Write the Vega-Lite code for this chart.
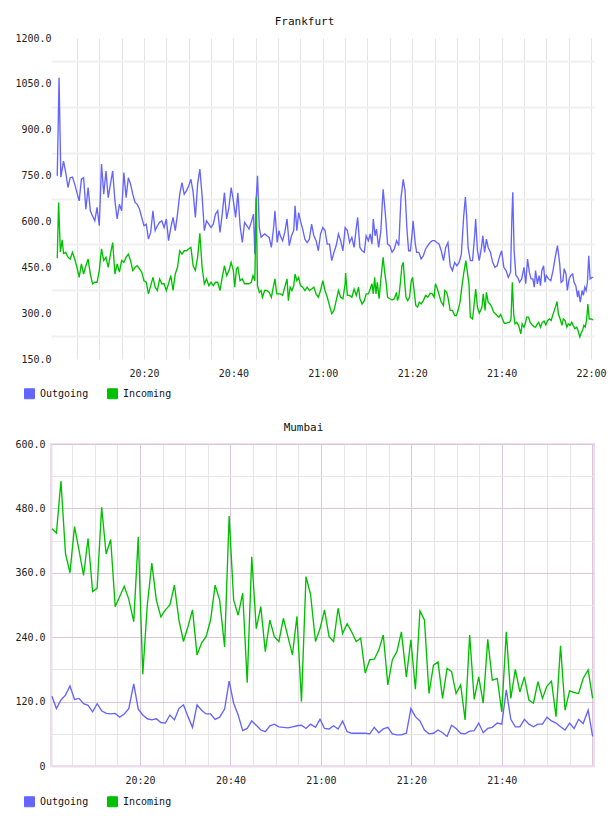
{
  "$schema": "https://vega.github.io/schema/vega-lite/v6.json",
  "background": "white",
  "padding": {"left": 13, "top": 16, "right": 0, "bottom": 0},
  "columns": 1,
  "spacing": 20,
  "resolve": {"scale": {"color": "independent", "x": "independent", "y": "independent"}, "legend": {"color": "independent"}},
  "config": {
    "font": "DejaVu Sans Mono",
    "view": {"stroke": null},
    "axis": {"labelFont": "DejaVu Sans Mono", "labelFontSize": 10, "labelColor": "#222222", "ticks": false, "title": null, "labelOverlap": false, "labelFlush": false, "labelBound": false},
    "legend": {"labelFont": "DejaVu Sans Mono", "labelFontSize": 10, "labelColor": "#111111", "padding": 0},
    "title": {"font": "DejaVu Sans Mono", "fontSize": 11, "fontWeight": "normal", "color": "#111111"}
  },
  "concat": [
    {
      "name": "frankfurt",
      "title": {"text": "Frankfurt", "frame": "group", "anchor": "middle", "dx": -18, "offset": 6},
      "width": 543,
      "height": 321,
      "data": {"values": [
        {"t":0.6,"s":"Outgoing","v":749},{"t":1.0,"s":"Outgoing","v":1070},{"t":1.4,"s":"Outgoing","v":745},{"t":2,"s":"Outgoing","v":797},{"t":2.5,"s":"Outgoing","v":760},{"t":3,"s":"Outgoing","v":711},{"t":3.5,"s":"Outgoing","v":743},{"t":4,"s":"Outgoing","v":745},{"t":4.5,"s":"Outgoing","v":722},{"t":5,"s":"Outgoing","v":694},{"t":5.5,"s":"Outgoing","v":667},{"t":6,"s":"Outgoing","v":738},{"t":6.5,"s":"Outgoing","v":743},{"t":7,"s":"Outgoing","v":640},{"t":7.5,"s":"Outgoing","v":711},{"t":8,"s":"Outgoing","v":635},{"t":8.5,"s":"Outgoing","v":618},{"t":9,"s":"Outgoing","v":602},{"t":9.5,"s":"Outgoing","v":646},{"t":10,"s":"Outgoing","v":586},{"t":10.5,"s":"Outgoing","v":788},{"t":11,"s":"Outgoing","v":689},{"t":11.5,"s":"Outgoing","v":765},{"t":12,"s":"Outgoing","v":678},{"t":12.5,"s":"Outgoing","v":722},{"t":13,"s":"Outgoing","v":765},{"t":13.5,"s":"Outgoing","v":667},{"t":14,"s":"Outgoing","v":608},{"t":14.5,"s":"Outgoing","v":656},{"t":15,"s":"Outgoing","v":635},{"t":15.5,"s":"Outgoing","v":760},{"t":16,"s":"Outgoing","v":678},{"t":16.5,"s":"Outgoing","v":743},{"t":17,"s":"Outgoing","v":722},{"t":17.5,"s":"Outgoing","v":689},{"t":18,"s":"Outgoing","v":662},{"t":18.5,"s":"Outgoing","v":656},{"t":19,"s":"Outgoing","v":640},{"t":19.5,"s":"Outgoing","v":613},{"t":20,"s":"Outgoing","v":586},{"t":20.5,"s":"Outgoing","v":591},{"t":21,"s":"Outgoing","v":542},{"t":21.5,"s":"Outgoing","v":564},{"t":22,"s":"Outgoing","v":635},{"t":22.5,"s":"Outgoing","v":570},{"t":23,"s":"Outgoing","v":586},{"t":23.5,"s":"Outgoing","v":597},{"t":24,"s":"Outgoing","v":602},{"t":24.5,"s":"Outgoing","v":580},{"t":25,"s":"Outgoing","v":608},{"t":25.5,"s":"Outgoing","v":537},{"t":26,"s":"Outgoing","v":580},{"t":26.5,"s":"Outgoing","v":613},{"t":27,"s":"Outgoing","v":570},{"t":27.5,"s":"Outgoing","v":624},{"t":28,"s":"Outgoing","v":689},{"t":28.5,"s":"Outgoing","v":727},{"t":29,"s":"Outgoing","v":689},{"t":29.5,"s":"Outgoing","v":700},{"t":30,"s":"Outgoing","v":716},{"t":30.5,"s":"Outgoing","v":738},{"t":31,"s":"Outgoing","v":694},{"t":31.5,"s":"Outgoing","v":613},{"t":32,"s":"Outgoing","v":722},{"t":32.5,"s":"Outgoing","v":771},{"t":33,"s":"Outgoing","v":684},{"t":33.5,"s":"Outgoing","v":570},{"t":34,"s":"Outgoing","v":602},{"t":34.5,"s":"Outgoing","v":591},{"t":35,"s":"Outgoing","v":580},{"t":35.5,"s":"Outgoing","v":591},{"t":36,"s":"Outgoing","v":624},{"t":36.5,"s":"Outgoing","v":635},{"t":37,"s":"Outgoing","v":564},{"t":37.5,"s":"Outgoing","v":624},{"t":38,"s":"Outgoing","v":694},{"t":38.5,"s":"Outgoing","v":608},{"t":39,"s":"Outgoing","v":646},{"t":39.5,"s":"Outgoing","v":711},{"t":40,"s":"Outgoing","v":667},{"t":40.5,"s":"Outgoing","v":613},{"t":41,"s":"Outgoing","v":694},{"t":41.5,"s":"Outgoing","v":586},{"t":42,"s":"Outgoing","v":531},{"t":42.5,"s":"Outgoing","v":597},{"t":43,"s":"Outgoing","v":586},{"t":43.5,"s":"Outgoing","v":575},{"t":44,"s":"Outgoing","v":597},{"t":44.5,"s":"Outgoing","v":624},{"t":44.8,"s":"Outgoing","v":493},{"t":45.1,"s":"Outgoing","v":673},{"t":45.4,"s":"Outgoing","v":749},{"t":45.8,"s":"Outgoing","v":580},{"t":46.2,"s":"Outgoing","v":548},{"t":46.5,"s":"Outgoing","v":553},{"t":47,"s":"Outgoing","v":559},{"t":47.5,"s":"Outgoing","v":553},{"t":48,"s":"Outgoing","v":548},{"t":48.5,"s":"Outgoing","v":515},{"t":49,"s":"Outgoing","v":580},{"t":49.3,"s":"Outgoing","v":635},{"t":49.8,"s":"Outgoing","v":531},{"t":50.2,"s":"Outgoing","v":570},{"t":50.5,"s":"Outgoing","v":553},{"t":51,"s":"Outgoing","v":537},{"t":51.5,"s":"Outgoing","v":564},{"t":52,"s":"Outgoing","v":608},{"t":52.5,"s":"Outgoing","v":521},{"t":53,"s":"Outgoing","v":553},{"t":53.5,"s":"Outgoing","v":570},{"t":53.8,"s":"Outgoing","v":651},{"t":54.2,"s":"Outgoing","v":570},{"t":54.6,"s":"Outgoing","v":629},{"t":55,"s":"Outgoing","v":602},{"t":55.5,"s":"Outgoing","v":575},{"t":56,"s":"Outgoing","v":542},{"t":56.5,"s":"Outgoing","v":531},{"t":57,"s":"Outgoing","v":542},{"t":57.5,"s":"Outgoing","v":591},{"t":58,"s":"Outgoing","v":553},{"t":58.5,"s":"Outgoing","v":537},{"t":59,"s":"Outgoing","v":504},{"t":59.5,"s":"Outgoing","v":559},{"t":60,"s":"Outgoing","v":580},{"t":60.5,"s":"Outgoing","v":570},{"t":61,"s":"Outgoing","v":526},{"t":61.5,"s":"Outgoing","v":526},{"t":62,"s":"Outgoing","v":472},{"t":62.5,"s":"Outgoing","v":499},{"t":63,"s":"Outgoing","v":521},{"t":63.5,"s":"Outgoing","v":559},{"t":64,"s":"Outgoing","v":537},{"t":64.5,"s":"Outgoing","v":504},{"t":65,"s":"Outgoing","v":580},{"t":65.5,"s":"Outgoing","v":570},{"t":66,"s":"Outgoing","v":531},{"t":66.5,"s":"Outgoing","v":548},{"t":67,"s":"Outgoing","v":515},{"t":67.5,"s":"Outgoing","v":580},{"t":67.8,"s":"Outgoing","v":613},{"t":68.3,"s":"Outgoing","v":515},{"t":68.8,"s":"Outgoing","v":504},{"t":69.3,"s":"Outgoing","v":499},{"t":69.7,"s":"Outgoing","v":553},{"t":70.2,"s":"Outgoing","v":537},{"t":70.6,"s":"Outgoing","v":559},{"t":71,"s":"Outgoing","v":526},{"t":71.3,"s":"Outgoing","v":608},{"t":71.7,"s":"Outgoing","v":553},{"t":72,"s":"Outgoing","v":575},{"t":72.5,"s":"Outgoing","v":515},{"t":73,"s":"Outgoing","v":570},{"t":73.3,"s":"Outgoing","v":656},{"t":73.5,"s":"Outgoing","v":705},{"t":74,"s":"Outgoing","v":624},{"t":74.5,"s":"Outgoing","v":526},{"t":75,"s":"Outgoing","v":521},{"t":75.5,"s":"Outgoing","v":499},{"t":76,"s":"Outgoing","v":510},{"t":76.5,"s":"Outgoing","v":537},{"t":77,"s":"Outgoing","v":521},{"t":77.5,"s":"Outgoing","v":678},{"t":78,"s":"Outgoing","v":738},{"t":78.4,"s":"Outgoing","v":700},{"t":78.8,"s":"Outgoing","v":580},{"t":79.2,"s":"Outgoing","v":504},{"t":79.6,"s":"Outgoing","v":504},{"t":80,"s":"Outgoing","v":564},{"t":80.2,"s":"Outgoing","v":602},{"t":80.7,"s":"Outgoing","v":526},{"t":81,"s":"Outgoing","v":499},{"t":81.5,"s":"Outgoing","v":499},{"t":82,"s":"Outgoing","v":477},{"t":82.5,"s":"Outgoing","v":488},{"t":83,"s":"Outgoing","v":510},{"t":83.5,"s":"Outgoing","v":521},{"t":84,"s":"Outgoing","v":531},{"t":84.5,"s":"Outgoing","v":537},{"t":85,"s":"Outgoing","v":537},{"t":85.5,"s":"Outgoing","v":531},{"t":86,"s":"Outgoing","v":526},{"t":86.5,"s":"Outgoing","v":504},{"t":87,"s":"Outgoing","v":472},{"t":87.5,"s":"Outgoing","v":515},{"t":88,"s":"Outgoing","v":531},{"t":88.5,"s":"Outgoing","v":455},{"t":89,"s":"Outgoing","v":439},{"t":89.5,"s":"Outgoing","v":466},{"t":90,"s":"Outgoing","v":455},{"t":90.5,"s":"Outgoing","v":466},{"t":91,"s":"Outgoing","v":493},{"t":91.5,"s":"Outgoing","v":613},{"t":91.9,"s":"Outgoing","v":680},{"t":92.2,"s":"Outgoing","v":613},{"t":92.5,"s":"Outgoing","v":515},{"t":93,"s":"Outgoing","v":472},{"t":93.5,"s":"Outgoing","v":472},{"t":94,"s":"Outgoing","v":559},{"t":94.2,"s":"Outgoing","v":608},{"t":94.6,"s":"Outgoing","v":504},{"t":95,"s":"Outgoing","v":472},{"t":95.5,"s":"Outgoing","v":515},{"t":95.8,"s":"Outgoing","v":553},{"t":96.2,"s":"Outgoing","v":499},{"t":96.6,"s":"Outgoing","v":542},{"t":97,"s":"Outgoing","v":515},{"t":97.5,"s":"Outgoing","v":499},{"t":98,"s":"Outgoing","v":466},{"t":98.5,"s":"Outgoing","v":450},{"t":99,"s":"Outgoing","v":455},{"t":99.5,"s":"Outgoing","v":483},{"t":100,"s":"Outgoing","v":504},{"t":100.5,"s":"Outgoing","v":450},{"t":101,"s":"Outgoing","v":439},{"t":101.5,"s":"Outgoing","v":417},{"t":102,"s":"Outgoing","v":434},{"t":102.3,"s":"Outgoing","v":613},{"t":102.5,"s":"Outgoing","v":695},{"t":102.8,"s":"Outgoing","v":504},{"t":103.2,"s":"Outgoing","v":423},{"t":103.6,"s":"Outgoing","v":417},{"t":104,"s":"Outgoing","v":401},{"t":104.5,"s":"Outgoing","v":412},{"t":105,"s":"Outgoing","v":450},{"t":105.4,"s":"Outgoing","v":396},{"t":105.8,"s":"Outgoing","v":477},{"t":106.2,"s":"Outgoing","v":434},{"t":106.6,"s":"Outgoing","v":412},{"t":107,"s":"Outgoing","v":412},{"t":107.3,"s":"Outgoing","v":385},{"t":107.6,"s":"Outgoing","v":439},{"t":108,"s":"Outgoing","v":396},{"t":108.4,"s":"Outgoing","v":423},{"t":108.7,"s":"Outgoing","v":390},{"t":109,"s":"Outgoing","v":439},{"t":109.4,"s":"Outgoing","v":455},{"t":109.7,"s":"Outgoing","v":401},{"t":110,"s":"Outgoing","v":423},{"t":110.5,"s":"Outgoing","v":412},{"t":111,"s":"Outgoing","v":406},{"t":111.5,"s":"Outgoing","v":439},{"t":112,"s":"Outgoing","v":483},{"t":112.5,"s":"Outgoing","v":521},{"t":113,"s":"Outgoing","v":461},{"t":113.3,"s":"Outgoing","v":401},{"t":113.7,"s":"Outgoing","v":406},{"t":114,"s":"Outgoing","v":445},{"t":114.4,"s":"Outgoing","v":428},{"t":114.7,"s":"Outgoing","v":374},{"t":115.1,"s":"Outgoing","v":412},{"t":115.5,"s":"Outgoing","v":423},{"t":115.9,"s":"Outgoing","v":428},{"t":116.2,"s":"Outgoing","v":401},{"t":116.6,"s":"Outgoing","v":390},{"t":117,"s":"Outgoing","v":352},{"t":117.2,"s":"Outgoing","v":374},{"t":117.6,"s":"Outgoing","v":336},{"t":118,"s":"Outgoing","v":374},{"t":118.3,"s":"Outgoing","v":358},{"t":118.6,"s":"Outgoing","v":385},{"t":118.9,"s":"Outgoing","v":374},{"t":119.2,"s":"Outgoing","v":401},{"t":119.5,"s":"Outgoing","v":488},{"t":119.8,"s":"Outgoing","v":412},{"t":120.2,"s":"Outgoing","v":417},{"t":120.5,"s":"Outgoing","v":417},
        {"t":0.6,"s":"Incoming","v":480},{"t":0.9,"s":"Incoming","v":662},{"t":1.3,"s":"Incoming","v":500},{"t":1.7,"s":"Incoming","v":540},{"t":2,"s":"Incoming","v":495},{"t":2.5,"s":"Incoming","v":499},{"t":3,"s":"Incoming","v":483},{"t":3.5,"s":"Incoming","v":477},{"t":4,"s":"Incoming","v":499},{"t":4.5,"s":"Incoming","v":477},{"t":5,"s":"Incoming","v":450},{"t":5.5,"s":"Incoming","v":417},{"t":6,"s":"Incoming","v":461},{"t":6.5,"s":"Incoming","v":428},{"t":7,"s":"Incoming","v":455},{"t":7.5,"s":"Incoming","v":477},{"t":8,"s":"Incoming","v":428},{"t":8.5,"s":"Incoming","v":396},{"t":9,"s":"Incoming","v":401},{"t":9.5,"s":"Incoming","v":401},{"t":10,"s":"Incoming","v":439},{"t":10.5,"s":"Incoming","v":510},{"t":11,"s":"Incoming","v":472},{"t":11.5,"s":"Incoming","v":483},{"t":12,"s":"Incoming","v":450},{"t":12.5,"s":"Incoming","v":493},{"t":13,"s":"Incoming","v":531},{"t":13.5,"s":"Incoming","v":428},{"t":14,"s":"Incoming","v":461},{"t":14.5,"s":"Incoming","v":434},{"t":15,"s":"Incoming","v":472},{"t":15.5,"s":"Incoming","v":466},{"t":16,"s":"Incoming","v":483},{"t":16.5,"s":"Incoming","v":493},{"t":17,"s":"Incoming","v":472},{"t":17.5,"s":"Incoming","v":439},{"t":18,"s":"Incoming","v":450},{"t":18.5,"s":"Incoming","v":455},{"t":19,"s":"Incoming","v":445},{"t":19.5,"s":"Incoming","v":434},{"t":20,"s":"Incoming","v":406},{"t":20.5,"s":"Incoming","v":401},{"t":21,"s":"Incoming","v":363},{"t":21.5,"s":"Incoming","v":390},{"t":22,"s":"Incoming","v":417},{"t":22.5,"s":"Incoming","v":385},{"t":23,"s":"Incoming","v":374},{"t":23.5,"s":"Incoming","v":412},{"t":24,"s":"Incoming","v":396},{"t":24.5,"s":"Incoming","v":396},{"t":25,"s":"Incoming","v":374},{"t":25.5,"s":"Incoming","v":396},{"t":26,"s":"Incoming","v":423},{"t":26.5,"s":"Incoming","v":374},{"t":27,"s":"Incoming","v":428},{"t":27.5,"s":"Incoming","v":450},{"t":28,"s":"Incoming","v":504},{"t":28.5,"s":"Incoming","v":493},{"t":29,"s":"Incoming","v":504},{"t":29.5,"s":"Incoming","v":504},{"t":30,"s":"Incoming","v":510},{"t":30.5,"s":"Incoming","v":515},{"t":31,"s":"Incoming","v":455},{"t":31.5,"s":"Incoming","v":440},{"t":32,"s":"Incoming","v":483},{"t":32.5,"s":"Incoming","v":561},{"t":33,"s":"Incoming","v":450},{"t":33.5,"s":"Incoming","v":396},{"t":34,"s":"Incoming","v":412},{"t":34.5,"s":"Incoming","v":390},{"t":35,"s":"Incoming","v":401},{"t":35.5,"s":"Incoming","v":390},{"t":36,"s":"Incoming","v":401},{"t":36.5,"s":"Incoming","v":401},{"t":37,"s":"Incoming","v":374},{"t":37.5,"s":"Incoming","v":417},{"t":38,"s":"Incoming","v":455},{"t":38.5,"s":"Incoming","v":423},{"t":39,"s":"Incoming","v":439},{"t":39.5,"s":"Incoming","v":466},{"t":40,"s":"Incoming","v":439},{"t":40.3,"s":"Incoming","v":385},{"t":40.7,"s":"Incoming","v":445},{"t":41,"s":"Incoming","v":450},{"t":41.5,"s":"Incoming","v":406},{"t":42,"s":"Incoming","v":412},{"t":42.5,"s":"Incoming","v":396},{"t":43,"s":"Incoming","v":396},{"t":43.5,"s":"Incoming","v":396},{"t":44,"s":"Incoming","v":401},{"t":44.4,"s":"Incoming","v":423},{"t":44.8,"s":"Incoming","v":406},{"t":45.1,"s":"Incoming","v":678},{"t":45.4,"s":"Incoming","v":390},{"t":45.8,"s":"Incoming","v":368},{"t":46.2,"s":"Incoming","v":374},{"t":46.5,"s":"Incoming","v":352},{"t":47,"s":"Incoming","v":374},{"t":47.5,"s":"Incoming","v":374},{"t":48,"s":"Incoming","v":368},{"t":48.5,"s":"Incoming","v":352},{"t":49,"s":"Incoming","v":390},{"t":49.3,"s":"Incoming","v":412},{"t":49.7,"s":"Incoming","v":363},{"t":50.2,"s":"Incoming","v":363},{"t":50.6,"s":"Incoming","v":363},{"t":51,"s":"Incoming","v":358},{"t":51.5,"s":"Incoming","v":385},{"t":52,"s":"Incoming","v":412},{"t":52.3,"s":"Incoming","v":341},{"t":52.7,"s":"Incoming","v":385},{"t":53.1,"s":"Incoming","v":374},{"t":53.5,"s":"Incoming","v":390},{"t":53.8,"s":"Incoming","v":428},{"t":54.2,"s":"Incoming","v":406},{"t":54.6,"s":"Incoming","v":417},{"t":55,"s":"Incoming","v":390},{"t":55.5,"s":"Incoming","v":385},{"t":56,"s":"Incoming","v":374},{"t":56.5,"s":"Incoming","v":385},{"t":57,"s":"Incoming","v":374},{"t":57.5,"s":"Incoming","v":379},{"t":58,"s":"Incoming","v":385},{"t":58.5,"s":"Incoming","v":363},{"t":59,"s":"Incoming","v":352},{"t":59.5,"s":"Incoming","v":374},{"t":60,"s":"Incoming","v":406},{"t":60.5,"s":"Incoming","v":374},{"t":61,"s":"Incoming","v":352},{"t":61.5,"s":"Incoming","v":325},{"t":62,"s":"Incoming","v":298},{"t":62.5,"s":"Incoming","v":309},{"t":63,"s":"Incoming","v":341},{"t":63.5,"s":"Incoming","v":374},{"t":64,"s":"Incoming","v":352},{"t":64.5,"s":"Incoming","v":347},{"t":65,"s":"Incoming","v":396},{"t":65.1,"s":"Incoming","v":431},{"t":65.5,"s":"Incoming","v":358},{"t":66,"s":"Incoming","v":358},{"t":66.5,"s":"Incoming","v":352},{"t":67,"s":"Incoming","v":379},{"t":67.5,"s":"Incoming","v":358},{"t":68,"s":"Incoming","v":385},{"t":68.3,"s":"Incoming","v":347},{"t":68.8,"s":"Incoming","v":330},{"t":69.3,"s":"Incoming","v":341},{"t":69.7,"s":"Incoming","v":363},{"t":70.2,"s":"Incoming","v":363},{"t":70.6,"s":"Incoming","v":379},{"t":71,"s":"Incoming","v":396},{"t":71.3,"s":"Incoming","v":363},{"t":71.6,"s":"Incoming","v":417},{"t":71.9,"s":"Incoming","v":363},{"t":72.2,"s":"Incoming","v":401},{"t":72.6,"s":"Incoming","v":347},{"t":73,"s":"Incoming","v":412},{"t":73.3,"s":"Incoming","v":455},{"t":73.5,"s":"Incoming","v":483},{"t":73.8,"s":"Incoming","v":439},{"t":74.2,"s":"Incoming","v":396},{"t":74.5,"s":"Incoming","v":352},{"t":75,"s":"Incoming","v":347},{"t":75.5,"s":"Incoming","v":343},{"t":76,"s":"Incoming","v":347},{"t":76.5,"s":"Incoming","v":368},{"t":76.7,"s":"Incoming","v":341},{"t":77,"s":"Incoming","v":352},{"t":77.4,"s":"Incoming","v":406},{"t":77.7,"s":"Incoming","v":455},{"t":78,"s":"Incoming","v":466},{"t":78.3,"s":"Incoming","v":406},{"t":78.6,"s":"Incoming","v":352},{"t":79,"s":"Incoming","v":341},{"t":79.4,"s":"Incoming","v":352},{"t":79.8,"s":"Incoming","v":406},{"t":80.1,"s":"Incoming","v":417},{"t":80.5,"s":"Incoming","v":363},{"t":80.8,"s":"Incoming","v":325},{"t":81.2,"s":"Incoming","v":320},{"t":81.6,"s":"Incoming","v":336},{"t":82,"s":"Incoming","v":330},{"t":82.5,"s":"Incoming","v":341},{"t":83,"s":"Incoming","v":358},{"t":83.5,"s":"Incoming","v":352},{"t":84,"s":"Incoming","v":365},{"t":84.5,"s":"Incoming","v":363},{"t":84.9,"s":"Incoming","v":352},{"t":85.2,"s":"Incoming","v":396},{"t":85.5,"s":"Incoming","v":385},{"t":86,"s":"Incoming","v":361},{"t":86.5,"s":"Incoming","v":336},{"t":87,"s":"Incoming","v":325},{"t":87.3,"s":"Incoming","v":374},{"t":87.7,"s":"Incoming","v":368},{"t":88,"s":"Incoming","v":352},{"t":88.5,"s":"Incoming","v":309},{"t":89,"s":"Incoming","v":309},{"t":89.5,"s":"Incoming","v":292},{"t":89.9,"s":"Incoming","v":292},{"t":90.3,"s":"Incoming","v":311},{"t":90.7,"s":"Incoming","v":336},{"t":91.1,"s":"Incoming","v":385},{"t":91.5,"s":"Incoming","v":428},{"t":92,"s":"Incoming","v":472},{"t":92.3,"s":"Incoming","v":439},{"t":92.7,"s":"Incoming","v":396},{"t":93,"s":"Incoming","v":287},{"t":93.5,"s":"Incoming","v":281},{"t":93.8,"s":"Incoming","v":320},{"t":94.2,"s":"Incoming","v":379},{"t":94.6,"s":"Incoming","v":320},{"t":95,"s":"Incoming","v":300},{"t":95.3,"s":"Incoming","v":309},{"t":95.6,"s":"Incoming","v":320},{"t":95.9,"s":"Incoming","v":363},{"t":96.3,"s":"Incoming","v":309},{"t":96.6,"s":"Incoming","v":368},{"t":97,"s":"Incoming","v":336},{"t":97.4,"s":"Incoming","v":330},{"t":97.8,"s":"Incoming","v":320},{"t":98.2,"s":"Incoming","v":303},{"t":98.6,"s":"Incoming","v":298},{"t":99,"s":"Incoming","v":292},{"t":99.4,"s":"Incoming","v":287},{"t":99.8,"s":"Incoming","v":296},{"t":100.2,"s":"Incoming","v":281},{"t":100.6,"s":"Incoming","v":267},{"t":101,"s":"Incoming","v":267},{"t":101.4,"s":"Incoming","v":270},{"t":101.8,"s":"Incoming","v":270},{"t":102.1,"s":"Incoming","v":281},{"t":102.4,"s":"Incoming","v":401},{"t":102.7,"s":"Incoming","v":298},{"t":103,"s":"Incoming","v":265},{"t":103.4,"s":"Incoming","v":270},{"t":103.8,"s":"Incoming","v":260},{"t":104.3,"s":"Incoming","v":232},{"t":104.6,"s":"Incoming","v":265},{"t":105,"s":"Incoming","v":254},{"t":105.3,"s":"Incoming","v":265},{"t":105.6,"s":"Incoming","v":287},{"t":106,"s":"Incoming","v":287},{"t":106.4,"s":"Incoming","v":270},{"t":106.8,"s":"Incoming","v":262},{"t":107.2,"s":"Incoming","v":256},{"t":107.6,"s":"Incoming","v":254},{"t":108,"s":"Incoming","v":265},{"t":108.3,"s":"Incoming","v":270},{"t":108.7,"s":"Incoming","v":254},{"t":109.1,"s":"Incoming","v":270},{"t":109.5,"s":"Incoming","v":274},{"t":109.9,"s":"Incoming","v":262},{"t":110.3,"s":"Incoming","v":276},{"t":110.7,"s":"Incoming","v":281},{"t":111.1,"s":"Incoming","v":276},{"t":111.4,"s":"Incoming","v":292},{"t":111.8,"s":"Incoming","v":309},{"t":112.2,"s":"Incoming","v":328},{"t":112.4,"s":"Incoming","v":338},{"t":112.7,"s":"Incoming","v":298},{"t":113.1,"s":"Incoming","v":281},{"t":113.5,"s":"Incoming","v":260},{"t":113.8,"s":"Incoming","v":281},{"t":114.2,"s":"Incoming","v":276},{"t":114.6,"s":"Incoming","v":254},{"t":114.9,"s":"Incoming","v":265},{"t":115.3,"s":"Incoming","v":260},{"t":115.7,"s":"Incoming","v":270},{"t":116,"s":"Incoming","v":260},{"t":116.4,"s":"Incoming","v":249},{"t":116.8,"s":"Incoming","v":254},{"t":117.1,"s":"Incoming","v":243},{"t":117.5,"s":"Incoming","v":222},{"t":117.8,"s":"Incoming","v":235},{"t":118.1,"s":"Incoming","v":243},{"t":118.4,"s":"Incoming","v":260},{"t":118.7,"s":"Incoming","v":254},{"t":119,"s":"Incoming","v":276},{"t":119.3,"s":"Incoming","v":330},{"t":119.6,"s":"Incoming","v":281},{"t":120,"s":"Incoming","v":281},{"t":120.5,"s":"Incoming","v":278}
      ]},
      "mark": {"type": "line", "strokeWidth": 1.35, "interpolate": "linear"},
      "encoding": {
        "x": {
          "field": "t", "type": "quantitative",
          "scale": {"domain": [-0.8, 120.67], "nice": false, "zero": false},
          "axis": {
            "values": [5,10,15,20,25,30,35,40,45,50,55,60,65,70,75,80,85,90,95,100,105,110,115,120],
            "labelExpr": "datum.value % 20 == 0 ? (20 + floor(datum.value / 60)) + ':' + (datum.value % 60 == 0 ? '00' : '' + (datum.value % 60)) : ''",
            "grid": true, "gridColor": "#e4e4e4", "gridWidth": 1, "domain": false, "labelPadding": 9
          }
        },
        "y": {
          "field": "v", "type": "quantitative",
          "scale": {"domain": [150, 1200], "nice": false, "zero": false},
          "axis": {
            "values": [150,225,300,375,450,525,600,675,750,825,900,975,1050,1125,1200],
            "labelExpr": "datum.value % 150 == 0 ? format(datum.value, '.1f') : ''",
            "grid": true, "gridColor": "#efefef", "gridWidth": 2,
            "gridOpacity": {"condition": {"test": "datum.value % 150 == 0", "value": 0}, "value": 1},
            "domain": false, "labelPadding": 0
          }
        },
        "color": {
          "field": "s", "type": "nominal",
          "scale": {"domain": ["Outgoing", "Incoming"], "range": ["#6464ff", "#00c000"]},
          "legend": {
            "title": null, "orient": "none", "legendX": -27, "legendY": 350, "direction": "horizontal",
            "columns": 2, "columnPadding": 16, "labelOffset": 5, "symbolSize": 100, "symbolType": "square",
            "encode": {"symbols": {"update": {"fill": {"scale": "frankfurt_color", "field": "value"}, "stroke": {"value": "#8a8a8a"}, "strokeWidth": {"value": 1}, "opacity": {"value": 1}}}}
          }
        }
      }
    },
    {
      "name": "mumbai",
      "title": {"text": "Mumbai", "frame": "group", "anchor": "middle", "dx": -19, "offset": 6},
      "width": 543,
      "height": 322,
      "view": {"stroke": "#eddded", "strokeWidth": 2},
      "data": {"values": [
        {"t":0.5,"Outgoing":130,"Incoming":442},{"t":1.5,"Outgoing":107,"Incoming":434},{"t":2.5,"Outgoing":123,"Incoming":531},{"t":3.5,"Outgoing":132,"Incoming":396},{"t":4.5,"Outgoing":149,"Incoming":360},{"t":5.5,"Outgoing":124,"Incoming":446},{"t":6.5,"Outgoing":126,"Incoming":402},{"t":7.5,"Outgoing":116,"Incoming":355},{"t":8.5,"Outgoing":113,"Incoming":424},{"t":9.5,"Outgoing":101,"Incoming":325},
        {"t":10.5,"Outgoing":116,"Incoming":331},{"t":11.5,"Outgoing":103,"Incoming":482},{"t":12.5,"Outgoing":98,"Incoming":395},{"t":13.5,"Outgoing":97,"Incoming":422},{"t":14.5,"Outgoing":98,"Incoming":297},{"t":15.5,"Outgoing":91,"Incoming":316},{"t":16.5,"Outgoing":97,"Incoming":335},{"t":17.5,"Outgoing":107,"Incoming":311},{"t":18.6,"Outgoing":153,"Incoming":269},{"t":19.6,"Outgoing":106,"Incoming":427},
        {"t":20.6,"Outgoing":95,"Incoming":171},{"t":21.6,"Outgoing":88,"Incoming":300},{"t":22.6,"Outgoing":86,"Incoming":378},{"t":23.6,"Outgoing":88,"Incoming":309},{"t":24.6,"Outgoing":81,"Incoming":278},{"t":25.6,"Outgoing":80,"Incoming":291},{"t":26.6,"Outgoing":95,"Incoming":300},{"t":27.6,"Outgoing":86,"Incoming":337},{"t":28.6,"Outgoing":107,"Incoming":272},{"t":29.6,"Outgoing":114,"Incoming":232},
        {"t":30.6,"Outgoing":92,"Incoming":260},{"t":31.6,"Outgoing":72,"Incoming":291},{"t":32.6,"Outgoing":114,"Incoming":207},{"t":33.6,"Outgoing":104,"Incoming":229},{"t":34.6,"Outgoing":97,"Incoming":241},{"t":35.6,"Outgoing":97,"Incoming":272},{"t":36.6,"Outgoing":87,"Incoming":337},{"t":37.6,"Outgoing":91,"Incoming":309},{"t":38.7,"Outgoing":106,"Incoming":222},{"t":39.7,"Outgoing":158,"Incoming":466},
        {"t":40.7,"Outgoing":117,"Incoming":309},{"t":41.7,"Outgoing":95,"Incoming":281},{"t":42.7,"Outgoing":66,"Incoming":322},{"t":43.7,"Outgoing":70,"Incoming":155},{"t":44.7,"Outgoing":84,"Incoming":390},{"t":45.7,"Outgoing":76,"Incoming":256},{"t":46.7,"Outgoing":67,"Incoming":297},{"t":47.7,"Outgoing":64,"Incoming":213},{"t":48.7,"Outgoing":75,"Incoming":272},{"t":49.7,"Outgoing":78,"Incoming":241},
        {"t":50.7,"Outgoing":73,"Incoming":232},{"t":51.7,"Outgoing":72,"Incoming":275},{"t":52.7,"Outgoing":71,"Incoming":241},{"t":53.7,"Outgoing":73,"Incoming":207},{"t":54.7,"Outgoing":75,"Incoming":279},{"t":55.7,"Outgoing":76,"Incoming":120},{"t":56.7,"Outgoing":70,"Incoming":353},{"t":57.7,"Outgoing":78,"Incoming":320},{"t":58.8,"Outgoing":72,"Incoming":232},{"t":59.8,"Outgoing":87,"Incoming":256},
        {"t":60.8,"Outgoing":70,"Incoming":291},{"t":61.8,"Outgoing":69,"Incoming":241},{"t":62.8,"Outgoing":75,"Incoming":232},{"t":63.8,"Outgoing":69,"Incoming":294},{"t":64.8,"Outgoing":84,"Incoming":247},{"t":65.8,"Outgoing":64,"Incoming":265},{"t":66.8,"Outgoing":61,"Incoming":250},{"t":67.8,"Outgoing":61,"Incoming":232},{"t":68.8,"Outgoing":61,"Incoming":238},{"t":69.8,"Outgoing":61,"Incoming":173},
        {"t":70.8,"Outgoing":60,"Incoming":198},{"t":71.8,"Outgoing":72,"Incoming":199},{"t":72.8,"Outgoing":62,"Incoming":216},{"t":73.8,"Outgoing":69,"Incoming":244},{"t":74.8,"Outgoing":72,"Incoming":151},{"t":75.8,"Outgoing":60,"Incoming":198},{"t":76.8,"Outgoing":58,"Incoming":213},{"t":77.8,"Outgoing":58,"Incoming":250},{"t":78.9,"Outgoing":61,"Incoming":166},{"t":79.9,"Outgoing":107,"Incoming":235},
        {"t":80.9,"Outgoing":92,"Incoming":143},{"t":81.9,"Outgoing":84,"Incoming":289},{"t":82.9,"Outgoing":67,"Incoming":272},{"t":83.9,"Outgoing":60,"Incoming":135},{"t":84.9,"Outgoing":61,"Incoming":188},{"t":85.9,"Outgoing":67,"Incoming":194},{"t":86.9,"Outgoing":62,"Incoming":126},{"t":87.9,"Outgoing":55,"Incoming":182},{"t":88.9,"Outgoing":76,"Incoming":176},{"t":89.9,"Outgoing":70,"Incoming":135},
        {"t":90.9,"Outgoing":61,"Incoming":151},{"t":91.9,"Outgoing":60,"Incoming":86},{"t":92.9,"Outgoing":65,"Incoming":244},{"t":93.9,"Outgoing":66,"Incoming":124},{"t":94.9,"Outgoing":80,"Incoming":166},{"t":95.9,"Outgoing":62,"Incoming":117},{"t":96.9,"Outgoing":70,"Incoming":236},{"t":97.9,"Outgoing":72,"Incoming":160},{"t":99.0,"Outgoing":80,"Incoming":163},{"t":100.0,"Outgoing":78,"Incoming":101},
        {"t":101.0,"Outgoing":142,"Incoming":250},{"t":102.0,"Outgoing":87,"Incoming":126},{"t":103.0,"Outgoing":73,"Incoming":180},{"t":104.0,"Outgoing":73,"Incoming":138},{"t":105.0,"Outgoing":87,"Incoming":166},{"t":106.0,"Outgoing":78,"Incoming":123},{"t":107.0,"Outgoing":73,"Incoming":117},{"t":108.0,"Outgoing":78,"Incoming":157},{"t":109.0,"Outgoing":78,"Incoming":126},{"t":110.0,"Outgoing":91,"Incoming":149},
        {"t":111.0,"Outgoing":84,"Incoming":158},{"t":112.0,"Outgoing":80,"Incoming":92},{"t":113.0,"Outgoing":73,"Incoming":224},{"t":114.0,"Outgoing":67,"Incoming":104},{"t":115.0,"Outgoing":80,"Incoming":140},{"t":116.0,"Outgoing":70,"Incoming":137},{"t":117.0,"Outgoing":87,"Incoming":135},{"t":118.0,"Outgoing":79,"Incoming":163},{"t":119.1,"Outgoing":104,"Incoming":179},{"t":120.1,"Outgoing":55,"Incoming":126}
      ]},
      "transform": [{"fold": ["Outgoing", "Incoming"], "as": ["s", "v"]}],
      "mark": {"type": "line", "strokeWidth": 1.35, "interpolate": "linear"},
      "encoding": {
        "x": {
          "field": "t", "type": "quantitative",
          "scale": {"domain": [0.3, 120.4], "nice": false, "zero": false},
          "axis": {
            "values": [5,10,15,20,25,30,35,40,45,50,55,60,65,70,75,80,85,90,95,100,105,110,115,120],
            "labelExpr": "datum.value % 20 == 0 && datum.value < 120 ? (20 + floor(datum.value / 60)) + ':' + (datum.value % 60 == 0 ? '00' : '' + (datum.value % 60)) : ''",
            "grid": true,
            "gridColor": {"condition": {"test": "datum.value % 20 == 0", "value": "#dcc6dc"}, "value": "#e6e6e6"},
            "gridWidth": 1, "domain": true, "domainColor": "#eddded", "domainWidth": 2, "labelPadding": 9
          }
        },
        "y": {
          "field": "v", "type": "quantitative",
          "scale": {"domain": [0, 600], "nice": false, "zero": true},
          "axis": {
            "values": [0,60,120,180,240,300,360,420,480,540,600],
            "labelExpr": "datum.value == 0 ? '0' : datum.value % 120 == 0 ? format(datum.value, '.1f') : ''",
            "grid": true,
            "gridColor": {"condition": {"test": "datum.value % 120 == 0", "value": "#dcc6dc"}, "value": "#e6e6e6"},
            "gridWidth": 1, "domain": true, "domainColor": "#eddded", "domainWidth": 2, "labelPadding": 6
          }
        },
        "color": {
          "field": "s", "type": "nominal",
          "scale": {"domain": ["Outgoing", "Incoming"], "range": ["#6464ff", "#00c000"]},
          "legend": {
            "title": null, "orient": "none", "legendX": -27, "legendY": 352, "direction": "horizontal",
            "columns": 2, "columnPadding": 16, "labelOffset": 5, "symbolSize": 100, "symbolType": "square",
            "encode": {"symbols": {"update": {"fill": {"scale": "mumbai_color", "field": "value"}, "stroke": {"value": "#8a8a8a"}, "strokeWidth": {"value": 1}, "opacity": {"value": 1}}}}
          }
        }
      }
    }
  ]
}
